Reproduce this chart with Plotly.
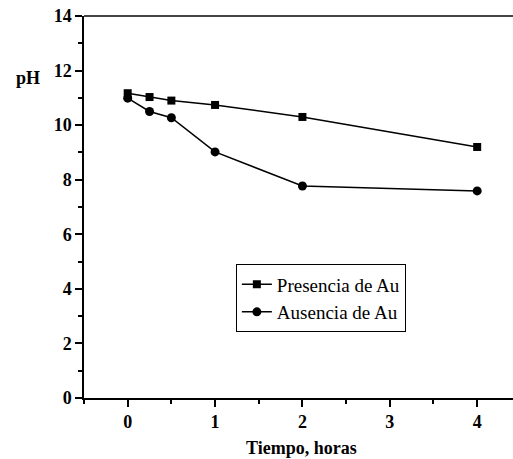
import plotly.graph_objects as go

time_h = [0, 0.25, 0.5, 1, 2, 4]
ph_presencia = [11.17, 11.03, 10.9, 10.74, 10.3, 9.2]
ph_ausencia = [10.99, 10.5, 10.27, 9.02, 7.77, 7.59]
x_ticks = [0, 1, 2, 3, 4]
y_ticks = [0, 2, 4, 6, 8, 10, 12, 14]

font_serif = "Liberation Serif, Times New Roman, serif"

fig = go.Figure()
fig.add_trace(go.Scatter(
    x=time_h, y=ph_presencia, mode="lines+markers", name="Presencia de Au",
    line=dict(color="black", width=1.5),
    marker=dict(symbol="square", size=8, color="black"),
))
fig.add_trace(go.Scatter(
    x=time_h, y=ph_ausencia, mode="lines+markers", name="Ausencia de Au",
    line=dict(color="black", width=1.5),
    marker=dict(symbol="circle", size=9, color="black"),
))

fig.update_layout(
    width=513, height=459,
    margin=dict(l=84, r=0, t=16, b=61),
    plot_bgcolor="white", paper_bgcolor="white",
    font=dict(family=font_serif, color="black", size=18),
    legend=dict(
        x=0.354, y=0.35, xanchor="left", yanchor="top",
        bordercolor="black", borderwidth=1, bgcolor="white",
        font=dict(family=font_serif, size=19),
        tracegroupgap=0, entrywidth=160,
    ),
    xaxis=dict(
        range=[-0.5, 4.41], tickvals=x_ticks, ticktext=[str(v) for v in x_ticks],
        showgrid=False, zeroline=False, showline=True, linecolor="black", linewidth=1.5,
        ticks="outside", ticklen=7, tickwidth=1.5, tickcolor="black",
        tickfont=dict(family=font_serif, size=18, weight="bold"),
        minor=dict(tickvals=[-0.5, 0.5, 1.5, 2.5, 3.5], ticks="outside", ticklen=4, tickwidth=1.5, tickcolor="black"),
    ),
    yaxis=dict(
        range=[0, 14], tickvals=y_ticks, ticktext=[str(v) for v in y_ticks],
        showgrid=False, zeroline=False, showline=True, linecolor="black", linewidth=1.5,
        ticks="outside", ticklen=7, tickwidth=1.5, tickcolor="black",
        tickfont=dict(family=font_serif, size=18, weight="bold"),
        minor=dict(tickvals=[1, 3, 5, 7, 9, 11, 13], ticks="outside", ticklen=4, tickwidth=1.5, tickcolor="black"),
    ),
    shapes=[dict(type="line", xref="paper", yref="paper", x0=0, x1=1, y0=1, y1=1,
                 line=dict(color="#444444", width=2))],
    annotations=[
        dict(text="<b>pH</b>", xref="paper", yref="paper", x=-0.131, y=0.838,
             showarrow=False, font=dict(family=font_serif, size=18), xanchor="center", yanchor="middle"),
        dict(text="<b>Tiempo, horas</b>", xref="paper", yref="paper", x=0.508, y=-0.13,
             showarrow=False, font=dict(family=font_serif, size=18), xanchor="center", yanchor="middle"),
    ],
)

fig.write_html("out.html")
